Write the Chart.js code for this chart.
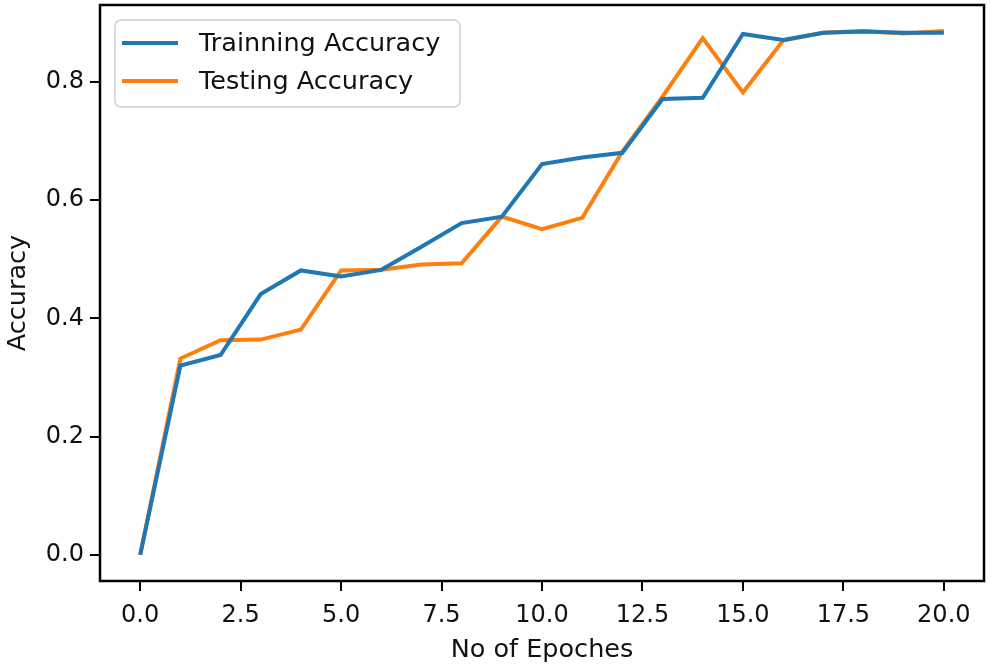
<!DOCTYPE html>
<html>
<head>
<meta charset="utf-8">
<script src="https://cdn.jsdelivr.net/npm/chart.js@4"></script>
<style>
  html, body { margin: 0; padding: 0; background: #fff; }
  #wrap { width: 991px; height: 670px; }
</style>
</head>
<body>
<div id="wrap"><canvas id="accChart"></canvas></div>
<script>
// data
const epochs = [0, 1, 2, 3, 4, 5, 6, 7, 8, 9, 10, 11, 12, 13, 14, 15, 16, 17, 18, 19, 20];
const trainAcc = [0.0, 0.320, 0.338, 0.441, 0.481, 0.471, 0.482, 0.521, 0.561, 0.572, 0.661, 0.672, 0.680, 0.771, 0.773, 0.881, 0.871, 0.883, 0.885, 0.883, 0.883];
const testAcc = [0.0, 0.332, 0.363, 0.364, 0.381, 0.481, 0.482, 0.491, 0.493, 0.572, 0.551, 0.570, 0.682, 0.775, 0.874, 0.782, 0.870, 0.883, 0.886, 0.882, 0.886];
const xTicks = [0, 2.5, 5, 7.5, 10, 12.5, 15, 17.5, 20];
const yTicks = [0, 0.2, 0.4, 0.6, 0.8];

const FONT = 'DejaVu Sans';
const TEXT = '#111';

const toPoints = (ys) => epochs.map((x, i) => ({ x: x, y: ys[i] }));

// matplotlib style box + legend inside the plot
const boxLegend = {
  id: 'boxLegend',
  afterDraw(chart) {
    const ctx = chart.ctx;
    const a = chart.chartArea;
    ctx.save();
    ctx.strokeStyle = '#000';
    ctx.lineWidth = 2.5;
    ctx.strokeRect(a.left, a.top, a.right - a.left, a.bottom - a.top);

    // legend box
    const lx = 115, ly = 20, lw = 345, lh = 87;
    ctx.fillStyle = 'rgba(255,255,255,0.8)';
    ctx.strokeStyle = '#d0d0d0';
    ctx.lineWidth = 1.5;
    ctx.beginPath();
    ctx.roundRect(lx, ly, lw, lh, 6);
    ctx.fill();
    ctx.stroke();

    ctx.font = '25.5px "' + FONT + '"';
    ctx.textBaseline = 'middle';
    chart.data.datasets.forEach((ds, i) => {
      const y = 43 + i * 38;
      ctx.strokeStyle = ds.borderColor;
      ctx.lineWidth = 4;
      ctx.beginPath();
      ctx.moveTo(122, y);
      ctx.lineTo(178, y);
      ctx.stroke();
      ctx.fillStyle = TEXT;
      ctx.fillText(ds.label, 199, y + 1);
    });
    ctx.restore();
  }
};

new Chart(document.getElementById('accChart'), {
  type: 'line',
  data: {
    datasets: [{
      label: 'Trainning Accuracy',
      data: toPoints(trainAcc),
      borderColor: '#1f77b4',
      borderWidth: 4,
      pointRadius: 0,
      tension: 0,
    }, {
      label: 'Testing Accuracy',
      data: toPoints(testAcc),
      borderColor: '#ff7f0e',
      borderWidth: 4,
      pointRadius: 0,
      tension: 0,
    }],
  },
  options: {
    responsive: true,
    maintainAspectRatio: false,
    animation: false,
    layout: { padding: { top: 5, right: 7, left: 0, bottom: 0 } },
    plugins: {
      legend: { display: false },
      tooltip: { enabled: false },
    },
    scales: {
      x: {
        type: 'linear',
        min: -1,
        max: 21,
        afterBuildTicks: (s) => { s.ticks = xTicks.map(v => ({ value: v })); },
        afterFit: (s) => { s.height = 89; s.paddingLeft = 0; s.paddingRight = 0; },
        border: { display: false },
        grid: { drawOnChartArea: false, drawTicks: true, tickLength: 10, color: '#000', lineWidth: 2 },
        ticks: {
          color: TEXT,
          padding: 10,
          maxRotation: 0,
          font: { family: FONT, size: 24 },
          callback: (v) => Number(v).toFixed(1),
        },
        title: {
          display: true,
          text: 'No of Epoches',
          color: TEXT,
          padding: { top: 0, bottom: 4 },
          font: { family: FONT, size: 25.5 },
        },
      },
      y: {
        type: 'linear',
        min: -0.0443,
        max: 0.930,
        afterBuildTicks: (s) => { s.ticks = yTicks.map(v => ({ value: v })); },
        afterFit: (s) => { s.width = 100; s.paddingTop = 0; s.paddingBottom = 0; },
        border: { display: false },
        grid: { drawOnChartArea: false, drawTicks: true, tickLength: 10, color: '#000', lineWidth: 2 },
        ticks: {
          color: TEXT,
          padding: 6,
          font: { family: FONT, size: 24 },
          callback: (v) => Number(v).toFixed(1),
        },
        title: {
          display: true,
          text: 'Accuracy',
          color: TEXT,
          padding: { top: 3, bottom: 0 },
          font: { family: FONT, size: 25.5 },
        },
      },
    },
  },
  plugins: [boxLegend],
});
</script>
</body>
</html>
